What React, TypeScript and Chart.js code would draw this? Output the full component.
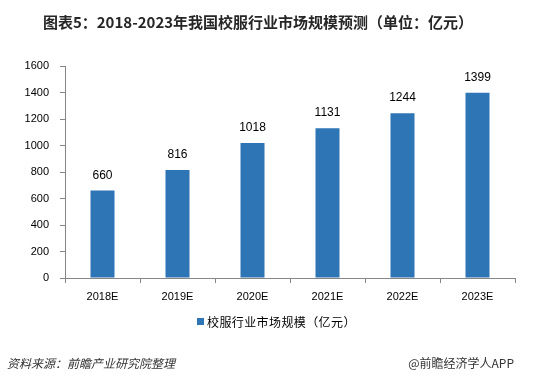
import React, { useEffect, useRef } from "react";
import { Chart, registerables } from "chart.js";

Chart.register(...registerables);

const TITLE = "图表5：2018-2023年我国校服行业市场规模预测（单位：亿元）";
const SOURCE = "资料来源：前瞻产业研究院整理";
const BRAND = "@前瞻经济学人APP";
const SERIES_NAME = "校服行业市场规模（亿元）";
const categories = ["2018E", "2019E", "2020E", "2021E", "2022E", "2023E"];
const values = [660, 816, 1018, 1131, 1244, 1399];
const yMin = 0;
const yMax = 1600;
const yStep = 200;

const BAR = "#2E75B6";
const AXIS = "#868686";
const CJK = "'Noto Sans CJK SC', 'Liberation Sans', sans-serif";
const NUM = "'Liberation Sans', Arial, sans-serif";

const labelsPlugin = {
  id: "barLabels",
  afterDatasetsDraw(chart: any) {
    const ctx = chart.ctx;
    const meta = chart.getDatasetMeta(0);
    ctx.save();
    ctx.font = `12px ${NUM}`;
    ctx.fillStyle = "#000";
    ctx.textAlign = "center";
    ctx.textBaseline = "middle";
    meta.data.forEach((el: any, i: number) => {
      ctx.fillText(String(values[i]), el.x, el.y - 15);
    });
    ctx.restore();
  },
};

const decorPlugin = {
  id: "decor",
  afterDraw(chart: any) {
    const ctx = chart.ctx;
    ctx.save();
    // title
    ctx.font = `bold 15px ${CJK}`;
    ctx.fillStyle = "#262626";
    ctx.textAlign = "center";
    ctx.textBaseline = "middle";
    ctx.fillText(TITLE, 258, 22);
    // legend
    ctx.font = `12px ${CJK}`;
    ctx.fillStyle = BAR;
    ctx.fillRect(197, 318, 7, 7);
    ctx.fillStyle = "#000";
    ctx.textAlign = "left";
    (ctx as any).letterSpacing = "0.4px";
    ctx.fillText(SERIES_NAME, 207, 322);
    (ctx as any).letterSpacing = "0px";
    // footer
    ctx.fillStyle = "#333";
    ctx.font = `italic 12px ${CJK}`;
    ctx.textAlign = "left";
    ctx.fillText(SOURCE, 7, 363);
    ctx.font = `12px ${CJK}`;
    ctx.textAlign = "right";
    ctx.fillText(BRAND, 514, 363);
    ctx.restore();
  },
};

export default function App() {
  const ref = useRef<HTMLCanvasElement>(null);
  useEffect(() => {
    if (!ref.current) return;
    const chart = new Chart(ref.current, {
      type: "bar",
      data: {
        labels: categories,
        datasets: [
          {
            label: SERIES_NAME,
            data: values,
            backgroundColor: BAR,
            borderWidth: 0,
            barPercentage: 0.32,
            categoryPercentage: 1,
          },
        ],
      },
      options: {
        responsive: false,
        animation: false,
        devicePixelRatio: 1,
        layout: { padding: { top: 66, left: 0, right: 19, bottom: 73 } },
        plugins: {
          legend: { display: false },
          title: { display: false },
          tooltip: { enabled: false },
        },
        scales: {
          x: {
            grid: {
              display: true,
              drawOnChartArea: false,
              color: AXIS,
              tickLength: 5,
              offset: true,
            },
            border: { display: true, color: AXIS, width: 1 },
            ticks: {
              color: "#000",
              font: { family: NUM, size: 11 },
              padding: 7,
              maxRotation: 0,
            },
            afterFit: (s: any) => {
              s.height = 30;
            },
          },
          y: {
            min: yMin,
            max: yMax,
            grid: {
              display: true,
              drawOnChartArea: false,
              color: AXIS,
              tickLength: 5,
            },
            border: { display: true, color: AXIS, width: 1 },
            ticks: {
              stepSize: yStep,
              color: "#000",
              font: { family: NUM, size: 11 },
              padding: 11,
              callback: (v: any) => String(v),
            },
            afterFit: (s: any) => {
              s.width = 65;
            },
          },
        },
      },
      plugins: [labelsPlugin, decorPlugin],
    });
    return () => chart.destroy();
  }, []);
  return (
    <div style={{ position: "fixed", left: 0, top: 0, width: 534, height: 381, background: "#fff" }}>
      <canvas ref={ref} width={534} height={381} style={{ width: 534, height: 381, display: "block" }} />
    </div>
  );
}
